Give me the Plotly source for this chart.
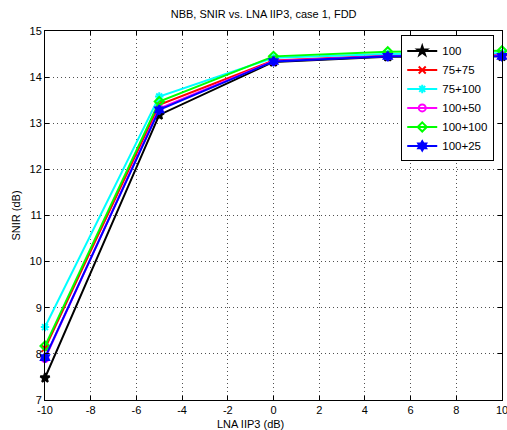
import plotly.graph_objects as go

x_vals = [-10, -5, 0, 5, 10]
series_names = ["100", "75+75", "75+100", "100+50", "100+100", "100+25"]
s_100 = [7.48, 13.18, 14.33, 14.44, 14.45]
s_75_75 = [8.12, 13.40, 14.36, 14.47, 14.48]
s_75_100 = [8.58, 13.58, 14.42, 14.50, 14.52]
s_100_50 = [7.90, 13.32, 14.35, 14.46, 14.47]
s_100_100 = [8.17, 13.47, 14.45, 14.55, 14.57]
s_100_25 = [7.92, 13.29, 14.34, 14.45, 14.45]
series_vals = [s_100, s_75_75, s_75_100, s_100_50, s_100_100, s_100_25]
x_tick_vals = [-10, -8, -6, -4, -2, 0, 2, 4, 6, 8, 10]
x_tick_text = ["-10", "-8", "-6", "-4", "-2", "0", "2", "4", "6", "8", "10"]
colors = ["#000000", "#ff0000", "#00ffff", "#ff00ff", "#00ff00", "#0000ff"]
symbols = ["star", "x-thin-open", "asterisk-open", "circle-open", "diamond-open", "hexagram"]

fig = go.Figure()
for name, vals, c, s in zip(series_names, series_vals, colors, symbols):
    fig.add_trace(go.Scatter(
        x=x_vals, y=vals, name=name, mode="lines+markers", cliponaxis=False,
        line=dict(color=c, width=2),
        marker=dict(symbol=s, size=7, color=c, line=dict(color=c, width=2)),
    ))

axis_common = dict(
    showgrid=True, gridcolor="#505050", griddash="1px,3px", gridwidth=1,
    showline=True, linecolor="#000000", linewidth=1, mirror="ticks",
    ticks="inside", ticklen=4, tickcolor="#000000", automargin=False,
    zeroline=False, tickfont=dict(size=11, color="#000000"),
    ticklabeloverflow="allow",
)

fig.update_layout(
    width=507, height=430,
    paper_bgcolor="white", plot_bgcolor="white",
    font=dict(family="Liberation Sans, Arial, sans-serif", size=11, color="#000000"),
    margin=dict(l=45, r=5, t=31, b=30, autoexpand=False),
    title=dict(text="NBB, SNIR vs. LNA IIP3, case 1, FDD", x=0.52, xanchor="center",
               y=0.975, yanchor="top", font=dict(size=11)),
    xaxis=dict(range=[-10, 10], tickvals=x_tick_vals, ticktext=x_tick_text, **axis_common),
    yaxis=dict(range=[7, 15], dtick=1, **axis_common),
    legend=dict(x=0.983, y=0.988, xanchor="right", yanchor="top",
                bordercolor="#000000", borderwidth=1, bgcolor="white",
                font=dict(size=11.5), tracegroupgap=0, itemwidth=30),
    showlegend=True,
    annotations=[
        dict(text="LNA IIP3 (dB)", x=0.45, y=0, xref="paper", yref="paper",
             xanchor="center", yanchor="top", yshift=-16, showarrow=False,
             font=dict(size=11)),
        dict(text="SNIR (dB)", x=0, y=0.5, xref="paper", yref="paper",
             xanchor="right", yanchor="middle", xshift=-22, textangle=-90,
             showarrow=False, font=dict(size=11)),
    ],
)

fig.write_html("out.html", config={"displayModeBar": False},
               post_script="document.body.style.margin='0';")
